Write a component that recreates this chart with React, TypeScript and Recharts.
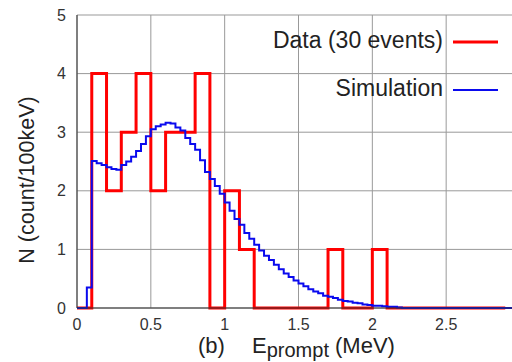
import React from 'react';
import { LineChart, Line, XAxis, YAxis, CartesianGrid, Legend } from 'recharts';

// Data histogram: 0.1 MeV bins starting at 0 MeV
const dataBinWidth = 0.1;
const dataCounts = [0, 4, 2, 3, 4, 2, 3, 3, 4, 0, 2, 1, 0, 0, 0, 0, 0, 1, 0, 0, 1, 0, 0, 0, 0, 0, 0, 0, 0];

// Simulation histogram: 1/30 MeV bins starting at 0 MeV
const simBinWidth = 1 / 30;
const simCounts = [
  0, 0, 0.35, 2.51, 2.47, 2.44, 2.4, 2.37, 2.36, 2.44,
  2.5, 2.58, 2.68, 2.8, 2.93, 3.05, 3.1, 3.13, 3.16, 3.15,
  3.08, 3.03, 2.9, 2.8, 2.7, 2.52, 2.32, 2.2, 2.08, 1.95,
  1.8, 1.66, 1.52, 1.42, 1.28, 1.18, 1.08, 0.98, 0.89, 0.82,
  0.74, 0.66, 0.59, 0.53, 0.47, 0.42, 0.37, 0.32, 0.28, 0.25,
  0.21, 0.19, 0.17, 0.14, 0.12, 0.11, 0.09, 0.08, 0.06, 0.05,
  0.04, 0.04, 0.03, 0.02, 0.02, 0.01, 0, 0, 0, 0,
  0, 0, 0, 0, 0, 0, 0, 0, 0, 0,
  0, 0, 0, 0, 0, 0, 0, 0, 0, 0,
];

const xTicks = [0, 0.5, 1, 1.5, 2, 2.5];
const yTicks = [0, 1, 2, 3, 4, 5];
const legendLabels = ['Data (30 events)', 'Simulation'];
const yLabel = 'N (count/100keV)';
const xLabelParts = ['(b)', 'E', 'prompt', '(MeV)'];

const FONT = '"Liberation Sans", Arial, sans-serif';
const RED = '#ff0000';
const BLUE = '#0a0aee';

function toSteps(counts: number[], width: number) {
  const pts = counts.map((v, i) => ({ x: i * width, v }));
  pts.push({ x: counts.length * width, v: counts[counts.length - 1] });
  return pts;
}

const dataSteps = toSteps(dataCounts, dataBinWidth);
const simSteps = toSteps(simCounts, simBinWidth);

const renderLegend = () => (
  <svg width={512} height={110} style={{ display: 'block' }}>
    <text x={443} y={48} textAnchor="end" fontSize={23} fontFamily={FONT} fill="#222">
      {legendLabels[0]}
    </text>
    <line x1={453} x2={498} y1={42} y2={42} stroke={RED} strokeWidth={3} />
    <text x={443} y={96} textAnchor="end" fontSize={23} fontFamily={FONT} fill="#222">
      {legendLabels[1]}
    </text>
    <line x1={453} x2={498} y1={90} y2={90} stroke={BLUE} strokeWidth={2} />
  </svg>
);

const renderYLabel = () => (
  <text
    x={34}
    y={180}
    transform="rotate(-90, 34, 180)"
    textAnchor="middle"
    fontSize={21.5}
    fontFamily={FONT}
    fill="#222"
  >
    {yLabel}
  </text>
);

const renderXLabel = () => (
  <g fontFamily={FONT} fill="#222">
    <text x={198} y={353} fontSize={22}>{xLabelParts[0]}</text>
    <text x={252} y={353} fontSize={22}>
      {xLabelParts[1]}
      <tspan fontSize={20} dy={4}>{xLabelParts[2]}</tspan>
    </text>
    <text x={335} y={353} fontSize={22}>{xLabelParts[3]}</text>
  </g>
);

export default function App() {
  return (
    <div
      style={{
        position: 'absolute',
        left: 0,
        top: 0,
        width: 512,
        height: 362,
        overflow: 'hidden',
        background: '#fff',
      }}
    >
      <LineChart width={530} height={362} margin={{ top: 15, right: 10, bottom: 0, left: 0 }}>
        <CartesianGrid stroke="#999" strokeWidth={1} />
        <XAxis
          dataKey="x"
          type="number"
          domain={[0, 3]}
          ticks={xTicks}
          allowDataOverflow
          height={54}
          tickLine={false}
          tickMargin={5}
          axisLine={{ stroke: '#333', strokeWidth: 1 }}
          tick={{ fill: '#333', fontSize: 16, fontFamily: FONT }}
          tickFormatter={(v: number) => String(v)}
          label={{ content: renderXLabel }}
        />
        <XAxis
          xAxisId="top"
          orientation="top"
          dataKey="x"
          type="number"
          domain={[0, 3]}
          height={0}
          tick={false}
          tickLine={false}
          axisLine={{ stroke: '#333', strokeWidth: 1 }}
        />
        <YAxis
          type="number"
          domain={[0, 5]}
          ticks={yTicks}
          width={77}
          tickLine={false}
          tickMargin={5}
          axisLine={{ stroke: '#333', strokeWidth: 1 }}
          tick={{ fill: '#333', fontSize: 16, fontFamily: FONT }}
          label={{ content: renderYLabel }}
        />
        <Legend
          layout="horizontal"
          verticalAlign="middle"
          align="center"
          wrapperStyle={{ position: 'absolute', left: 0, top: 0, width: 512, height: 110 }}
          content={renderLegend}
        />
        <Line
          data={dataSteps}
          dataKey="v"
          type="stepAfter"
          stroke={RED}
          strokeWidth={3}
          dot={false}
          activeDot={false}
          isAnimationActive={false}
          legendType="none"
        />
        <Line
          data={simSteps}
          dataKey="v"
          type="stepAfter"
          stroke={BLUE}
          strokeWidth={2}
          dot={false}
          activeDot={false}
          isAnimationActive={false}
          legendType="none"
        />
      </LineChart>
    </div>
  );
}
